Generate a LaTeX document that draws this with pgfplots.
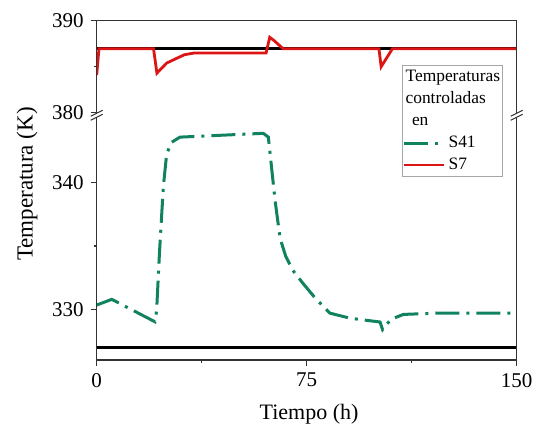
\documentclass[border=0pt]{standalone}
\usepackage{fontspec}
\setmainfont{Liberation Serif}
\usepackage{pgfplots}
\pgfplotsset{compat=1.18}
\definecolor{sgreen}{RGB}{16,130,96}
\definecolor{sred}{RGB}{220,20,20}
\begin{document}
\begin{tikzpicture}
\useasboundingbox (0,0) rectangle (267.5pt,215pt);
\pgfplotsset{
  base/.style={scale only axis, width=210pt, xmin=0, xmax=150,
    axis line style={draw=none}, tick align=outside, tick pos=left,
    major tick length=3pt, minor tick length=1.6pt,
    every tick/.style={black!80, line width=0.6pt},
    tick label style={font=\fontsize{10.5}{12}\selectfont},
    /pgf/number format/assume math mode=true},
  greenline/.style={sgreen, line width=1.5pt, dash pattern=on 12pt off 3.5pt on 1.5pt off 3.5pt},
}
\begin{axis}[base, anchor=south west, at={(48.35pt,158.65pt)}, height=46pt,
  ymin=380, ymax=390, ytick={380,390}, minor ytick={385}, xtick=\empty,
  legend cell align=left,
  legend image code/.code={\draw[#1] (0pt,0pt) -- (20pt,0pt);},
  legend style={at={(0.726,0.518)}, anchor=north west, draw=black!35, fill=white,
    inner sep=0.3pt, row sep=0pt, column sep=0.5pt,
    font=\fontsize{8.7}{9}\selectfont,
    nodes={inner sep=1pt, text height=6.8pt, text depth=2.2pt}}]
\addlegendimage{empty legend}\addlegendentry{\hspace*{-21.5pt}Temperaturas}
\addlegendimage{empty legend}\addlegendentry{\hspace*{-21.5pt}controladas}
\addlegendimage{empty legend}\addlegendentry{\hspace*{-18.3pt}en\hspace*{14pt}}
\addlegendimage{greenline}\addlegendentry{S41}
\addplot[black, line width=1.6pt, forget plot] coordinates {(0,387.02) (150,387.02)};
\addplot[sred, line width=1.4pt] coordinates {
(0,384.1) (0.8,386.95) (20.3,386.95) (21.5,384.3) (25,385.4) (31.3,386.3) (35,386.5)
(60.5,386.5) (61.8,388.2) (63.5,387.8) (66.6,386.95) (100.8,386.95) (101.6,385.0)
(105.6,386.95) (150,386.95)};
\addlegendentry{S7}
\end{axis}
\begin{axis}[base, anchor=south west, at={(48.35pt,35pt)}, height=121pt,
  ymin=326, ymax=345.11, ytick={330,340}, minor ytick={335},
  xtick={0,75,150}, minor xtick={37.5,112.5}]
\addplot[black, line width=1.8pt] coordinates {(0,327) (150,327)};
\addplot[greenline] coordinates {
(0,330.34) (5.4,330.79) (20.8,329.02) (21.4,329.9) (22.4,334.4) (23.8,339.7) (25,342.3)
(26.8,343.2) (29.75,343.6) (59.5,343.9) (61.3,343.6) (63.7,338.6) (65.5,335.6) (67.5,334.2)
(70,333.1) (73.5,332.1) (78,330.9) (83.3,329.7) (90.5,329.3) (101.2,329.0)
(102.1,328.4) (105,329.2) (109.5,329.6) (121.4,329.7) (150,329.7)};
\end{axis}
\draw[black!80, line width=0.6pt] (48.35pt,35pt) rectangle (258.35pt,204.65pt);
\foreach \bx in {48.35pt,258.35pt}{
  \fill[white] ([xshift=-3pt]\bx,154.85pt) -- ([xshift=3pt]\bx,157.85pt) -- ([xshift=3pt]\bx,159.85pt) -- ([xshift=-3pt]\bx,156.85pt) -- cycle;
  \draw[black!80, line width=0.5pt] ([xshift=-3pt]\bx,154.85pt) -- ([xshift=3pt]\bx,157.85pt);
  \draw[black!80, line width=0.5pt] ([xshift=-3pt]\bx,156.85pt) -- ([xshift=3pt]\bx,159.85pt);
}
\node[rotate=90, font=\fontsize{11.5}{13}\selectfont] at (13.5pt,123pt) {Temperatura (K)};
\node[font=\fontsize{11}{13}\selectfont] at (154.5pt,8pt) {Tiempo (h)};
\end{tikzpicture}
\end{document}
